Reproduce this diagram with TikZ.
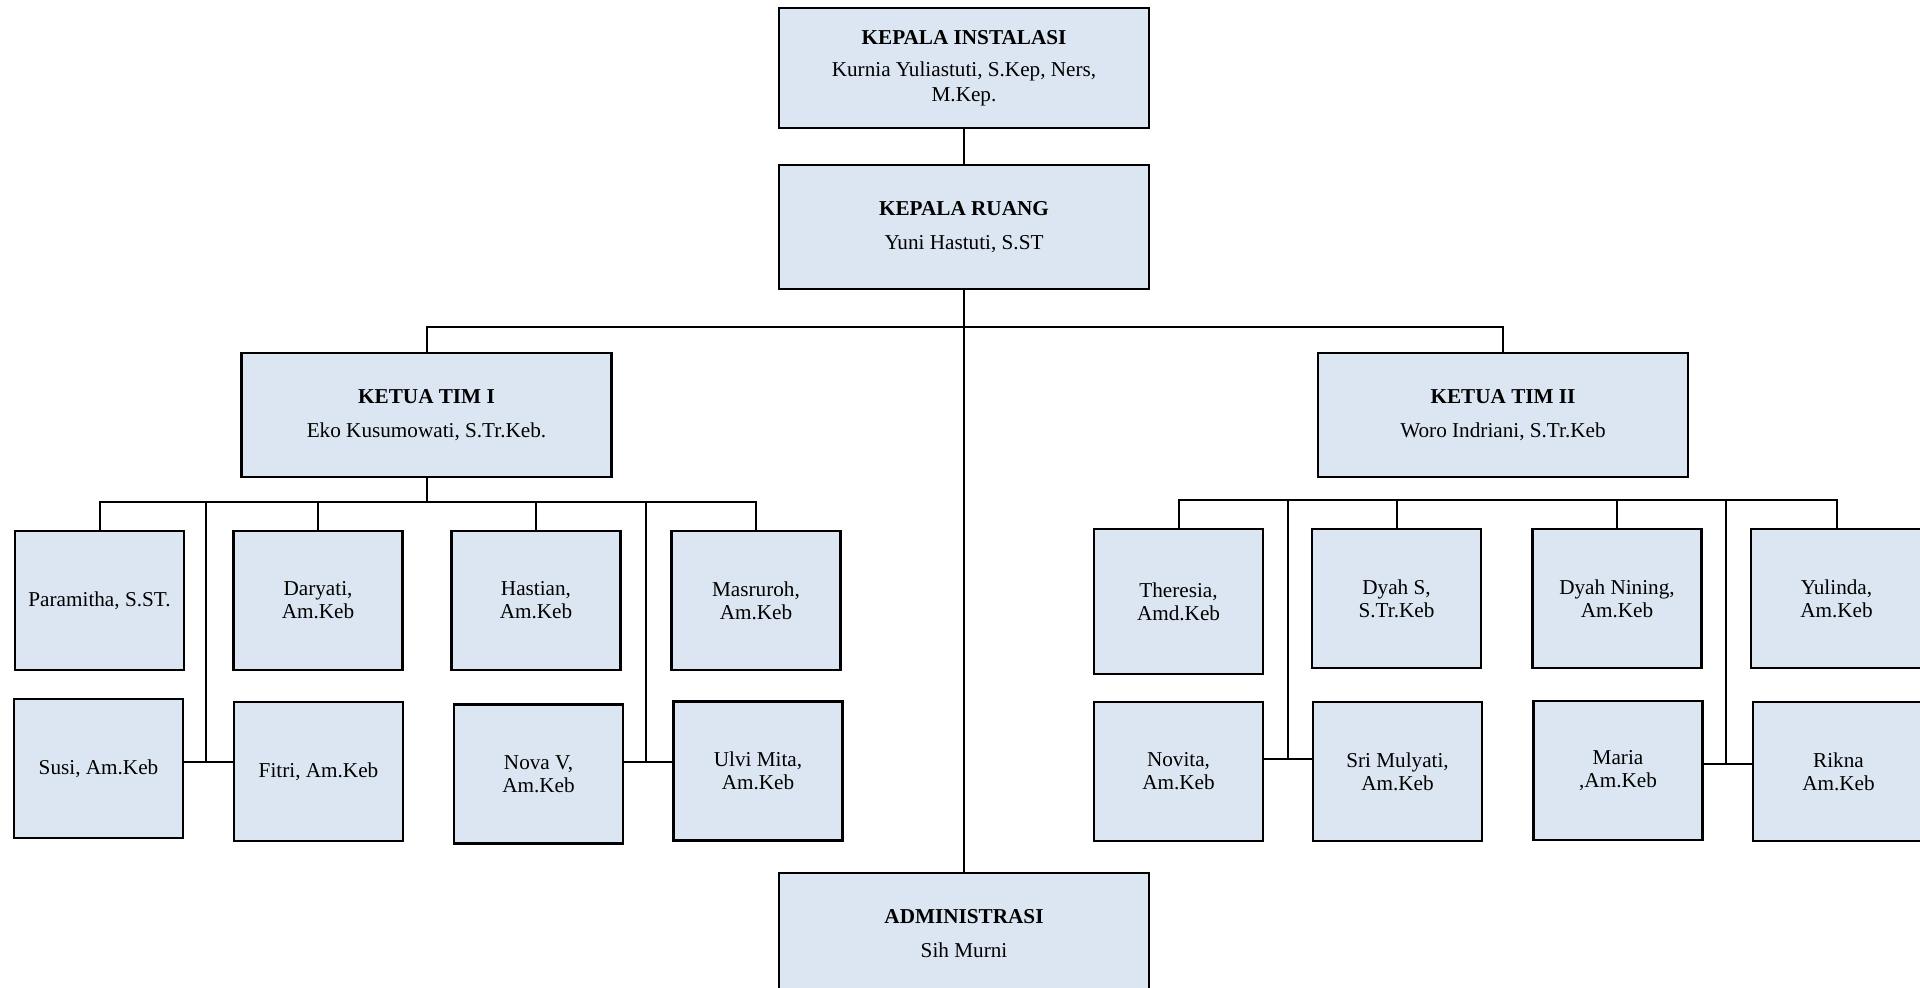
\documentclass[tikz,border=0pt]{standalone}
\usepackage{fontspec}
\setmainfont{Liberation Serif}
\usetikzlibrary{calc}
\definecolor{boxfill}{RGB}{220,230,242}

\begin{document}
\begin{tikzpicture}[
    x=0.5pt, y=-0.5pt,
    % Styles
    head/.style={rectangle, draw, line width=1.1pt, fill=boxfill, minimum width=185pt, minimum height=62pt, align=center, inner sep=2pt, font=\fontsize{10.6}{12.3}\selectfont},
    staff/.style={rectangle, draw, line width=1.1pt, fill=boxfill, minimum width=84.5pt, minimum height=69.5pt, align=center, inner sep=2pt, font=\fontsize{10.6}{11.6}\selectfont},
    link/.style={line width=1pt},
]
\useasboundingbox (0,0) rectangle (1920,987);

% === TOP ===
\node[head, minimum height=60pt] (instalasi) at (964,68) {\textbf{KEPALA INSTALASI}\\[3.7pt]Kurnia Yuliastuti, S.Kep, Ners,\\M.Kep.};
\node[head] (ruang) at (964,227) {\textbf{KEPALA RUANG}\\[4.5pt]Yuni Hastuti, S.ST};
\node[head] (timI) at (426.5,415) {\textbf{KETUA TIM I}\\[4.5pt]Eko Kusumowati, S.Tr.Keb.};
\node[head] (timII) at (1503,415) {\textbf{KETUA TIM II}\\[4.5pt]Woro Indriani, S.Tr.Keb};
\node[head, anchor=north, minimum height=0pt, text height=40pt, text depth=30pt] (admin) at (964,872) {\textbf{ADMINISTRASI}\\[4.5pt]Sih Murni};

% Top arrows
\coordinate (bustop) at (964,327);
\draw[link] (instalasi) -- (ruang);
\draw[link] (ruang.south) -- (admin.north);
\draw[link] (timI.north) |- (bustop) -| (timII.north);

% === TIM I ===
\node[staff] (paramitha) at (99.5,600.5) {Paramitha, S.ST.};
\node[staff] (daryati) at (318,600.5) {Daryati,\\Am.Keb};
\node[staff] (hastian) at (536,600.5) {Hastian,\\Am.Keb};
\node[staff] (masruroh) at (756,600.5) {Masruroh,\\Am.Keb};
\node[staff] (susi) at (98.5,768.5) {Susi, Am.Keb};
\node[staff] (fitri) at (318.5,771.5) {Fitri, Am.Keb};
\node[staff] (nova) at (538.5,774) {Nova V,\\Am.Keb};
\node[staff] (ulvi) at (758,771) {Ulvi Mita,\\Am.Keb};

% Tim I arrows
\coordinate (busI) at (426.5,502);
\coordinate (jointA) at (206,762);
\coordinate (jointB) at (646,762);
\draw[link] (timI.south) -- (busI);
\draw[link] (paramitha.north) |- (busI) -| (masruroh.north);
\foreach \n in {daryati,hastian} \draw[link] (\n.north) -- (\n.north |- busI);
\draw[link] (jointA |- busI) -- (jointA);
\draw[link] (susi.east |- jointA) -- (fitri.west |- jointA);
\draw[link] (jointB |- busI) -- (jointB);
\draw[link] (nova.east |- jointB) -- (ulvi.west |- jointB);

% === TIM II ===
\node[staff, minimum height=72.5pt] (theresia) at (1178.5,601.5) {Theresia,\\Amd.Keb};
\node[staff] (dyahs) at (1396.5,598.5) {Dyah S,\\S.Tr.Keb};
\node[staff] (dyahn) at (1617,598.5) {Dyah Nining,\\Am.Keb};
\node[staff, minimum width=85.5pt] (yulinda) at (1836.5,598.5) {Yulinda,\\Am.Keb};
\node[staff] (novita) at (1178.5,771.5) {Novita,\\Am.Keb};
\node[staff] (sri) at (1397.5,771.5) {Sri Mulyati,\\Am.Keb};
\node[staff] (maria) at (1618,770.5) {Maria\\,Am.Keb};
\node[staff, minimum width=85.5pt] (rikna) at (1838.5,771.5) {Rikna\\Am.Keb};

% Tim II arrows
\coordinate (busII) at (1503,500);
\coordinate (jointC) at (1288,759);
\coordinate (jointD) at (1726,764);
\draw[link] (theresia.north) |- (busII) -| (yulinda.north);
\foreach \n in {dyahs,dyahn} \draw[link] (\n.north) -- (\n.north |- busII);
\draw[link] (jointC |- busII) -- (jointC);
\draw[link] (novita.east |- jointC) -- (sri.west |- jointC);
\draw[link] (jointD |- busII) -- (jointD);
\draw[link] (maria.east |- jointD) -- (rikna.west |- jointD);

\end{tikzpicture}
\end{document}
